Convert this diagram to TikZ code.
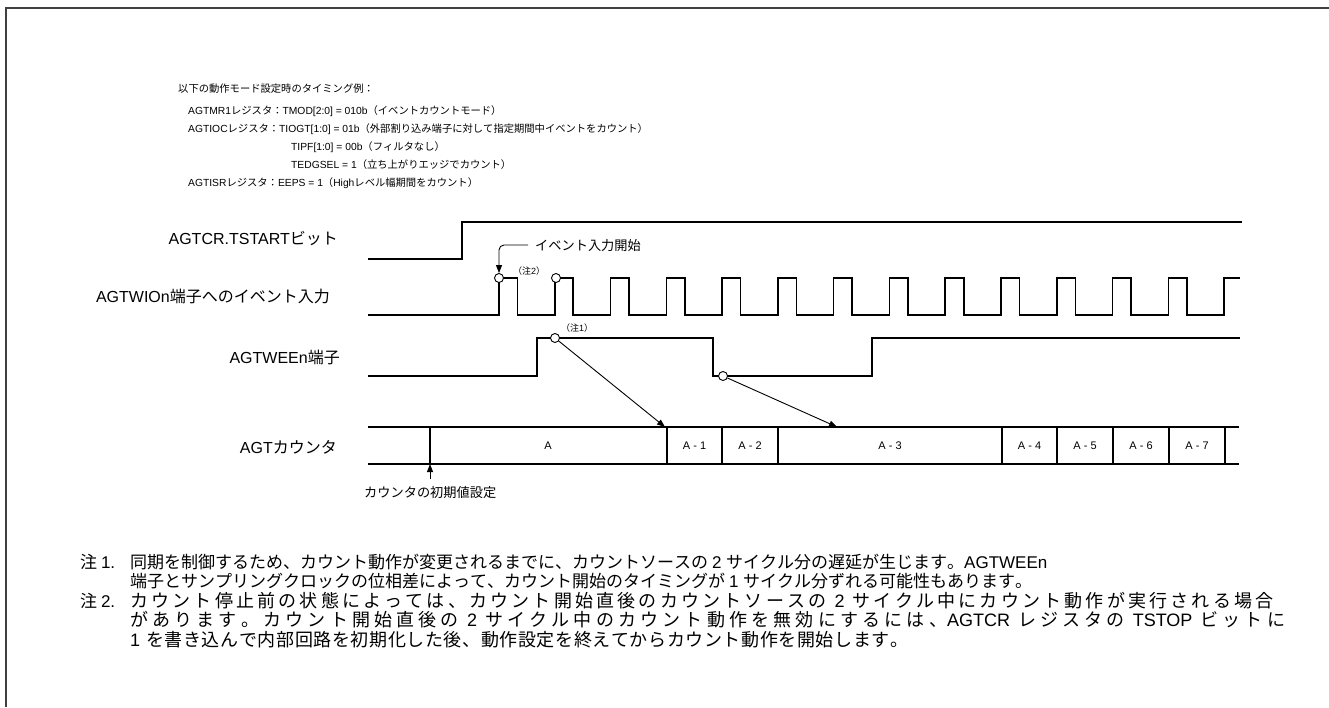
\documentclass[tikz,border=0pt]{standalone}
\usepackage{fontspec}
\usetikzlibrary{arrows.meta}
\setmainfont{Noto Sans CJK JP}
\newfontfamily\jpfont{Noto Sans CJK JP}
\newfontfamily\enfont{Liberation Sans}
\XeTeXinterchartokenstate=1
\newcount\mycnt
\newdimen\cjkgap \cjkgap=0pt
\def\setcls#1#2#3{\mycnt=#1 \loop\XeTeXcharclass\mycnt=#3 \ifnum\mycnt<#2 \advance\mycnt by 1 \repeat}
\setcls{"3000}{"30FF}{20}
\setcls{"4E00}{"9FFF}{20}
\setcls{"FF00}{"FFEF}{20}
\setcls{"21}{"7E}{21}
\XeTeXinterchartoks 20 21 = {\enfont}
\XeTeXinterchartoks 4095 21 = {\enfont}
\XeTeXinterchartoks 0 21 = {\enfont}
\XeTeXinterchartoks 21 20 = {\jpfont}
\XeTeXinterchartoks 4095 20 = {\jpfont}
\XeTeXinterchartoks 0 20 = {\jpfont}
\XeTeXinterchartoks 20 20 = {\kern\cjkgap}
\begin{document}
\begin{tikzpicture}[x=1pt,y=-1pt,
  sig/.style={line width=1.6pt,line join=miter},
  lbl/.style={anchor=east,inner sep=0,font=\fontsize{16}{18}\selectfont},
  hdr/.style={anchor=west,inner sep=0,font=\fontsize{10.3}{12}\selectfont},
  note/.style={anchor=west,inner sep=0,font=\fontsize{17}{20}\selectfont},
  noteb/.style={anchor=west,inner sep=0,font=\fontsize{18}{20}\selectfont},
  cell/.style={inner sep=0,font=\fontsize{11}{13}\selectfont},
  dot/.style={circle,draw,line width=0.9pt,fill=white,inner sep=0,minimum size=9pt},
  arr/.style={-{Triangle[length=8pt,width=6pt]},line width=0.9pt},
  tiny/.style={inner sep=0,font=\fontsize{9}{11}\selectfont},
  ann/.style={inner sep=0,font=\fontsize{13.2}{15}\selectfont}]
\useasboundingbox (0,0) rectangle (1329,707);
\fill[white] (0,0) rectangle (1329,707);
\draw[line width=1.5pt,black!75] (6,707) -- (6,8) -- (1329,8);
% header
\node[hdr] (h1) at (178,89) {以下の動作モード設定時のタイミング例：};
\node[hdr] (h2) at (188,111) {AGTMR1レジスタ：TMOD[2:0] = 010b（イベントカウントモード）};
\node[hdr] (h3) at (188,129) {AGTIOCレジスタ：TIOGT[1:0] = 01b（外部割り込み端子に対して指定期間中イベントをカウント）};
\node[hdr] (h4) at (291,147) {TIPF[1:0] = 00b（フィルタなし）};
\node[hdr] (h5) at (291,165) {TEDGSEL = 1（立ち上がりエッジでカウント）};
\node[hdr] (h6) at (188,183) {AGTISRレジスタ：EEPS = 1（Highレベル幅期間をカウント）};
% signal labels
\node[lbl] (l1) at (338,239) {AGTCR.TSTARTビット};
\node[lbl] (l2) at (330,296) {AGTWIOn端子へのイベント入力};
\node[lbl] (l3) at (340,357) {AGTWEEn端子};
\node[lbl] (l4) at (337,447) {AGTカウンタ};
% TSTART
\draw[sig] (368,259) -- (462,259) -- (462,222) -- (1242,222);
% event input
\draw[sig] (368,315) foreach \k in {0,...,12} { -- ({499+55.78*\k},315) -- ({499+55.78*\k},278) -- ({517.5+55.78*\k},278) -- ({517.5+55.78*\k},315) } -- (1224,315) -- (1224,278) -- (1240,278);
% WEE
\draw[sig] (368,376) -- (537,376) -- (537,338) -- (713,338) -- (713,376) -- (872,376) -- (872,338) -- (1240,338);
% counter
\draw[sig] (368,427) -- (1239,427);
\draw[sig] (368,464) -- (1239,464);
\foreach \x in {430,667,722,778,1002,1057,1113,1169,1225} \draw[sig] (\x,427) -- (\x,464);
\node[cell] (cA) at (548,446) {A};
\node[cell] (cA1) at (694.5,446) {A - 1};
\node[cell] (cA2) at (750,446) {A - 2};
\node[cell] (cA3) at (890,446) {A - 3};
\node[cell] (cA4) at (1029.5,446) {A - 4};
\node[cell] (cA5) at (1085,446) {A - 5};
\node[cell] (cA6) at (1141,446) {A - 6};
\node[cell] (cA7) at (1197,446) {A - 7};
% circles
\node[dot] (c1) at (499,278) {};
\node[dot] (c2) at (556,278) {};
\node[dot] (c3) at (555,338) {};
\node[dot] (c4) at (723,376) {};
\node[tiny] (n2) at (529,271) {（注2）};
\node[tiny] (n1) at (577,328) {（注1）};
% arrows
\coordinate (t1) at (665,427);
\coordinate (t2) at (837,427);
\draw[arr] (c3) -- (t1);
\draw[arr] (c4) -- (t2);
\node[ann,anchor=west] (evt) at (535,245) {イベント入力開始};
\draw[arr,rounded corners=5pt] ([xshift=-7pt]evt.west) -| (c1.north);
\coordinate (i0) at (430,479);
\coordinate (i1) at (430,464);
\draw[arr] (i0) -- (i1);
\node[ann,anchor=west] (init) at (364,493) {カウンタの初期値設定};
% notes
\node[note] (m1) at (80,562) {注 1.};
\node[note] (m1a) at (130,562) {同期を制御するため、カウント動作が変更されるまでに、カウントソースの 2 サイクル分の遅延が生じます。AGTWEEn};
\node[note] (m1b) at (130,581) {端子とサンプリングクロックの位相差によって、カウント開始のタイミングが 1 サイクル分ずれる可能性もあります。};
\node[note] (m2) at (80,601) {注 2.};
\node[noteb] (m2a) at (130,601) {\cjkgap=3.2pt カウント停止前の状態によっては、カウント開始直後のカウントソースの\hskip8pt 2\hskip8pt サイクル中にカウント動作が実行される場合};
\node[noteb] (m2b) at (130,620) {\cjkgap=4.2pt があります。カウント開始直後の\hskip8pt 2\hskip8pt サイクル中のカウント動作を無効にするには、AGTCR\hskip8pt レジスタの\hskip8pt TSTOP\hskip8pt ビットに};
\node[noteb] (m2c) at (130,640) {\cjkgap=0.6pt 1\hskip6pt を書き込んで内部回路を初期化した後、動作設定を終えてからカウント動作を開始します。};
\end{tikzpicture}
\end{document}
